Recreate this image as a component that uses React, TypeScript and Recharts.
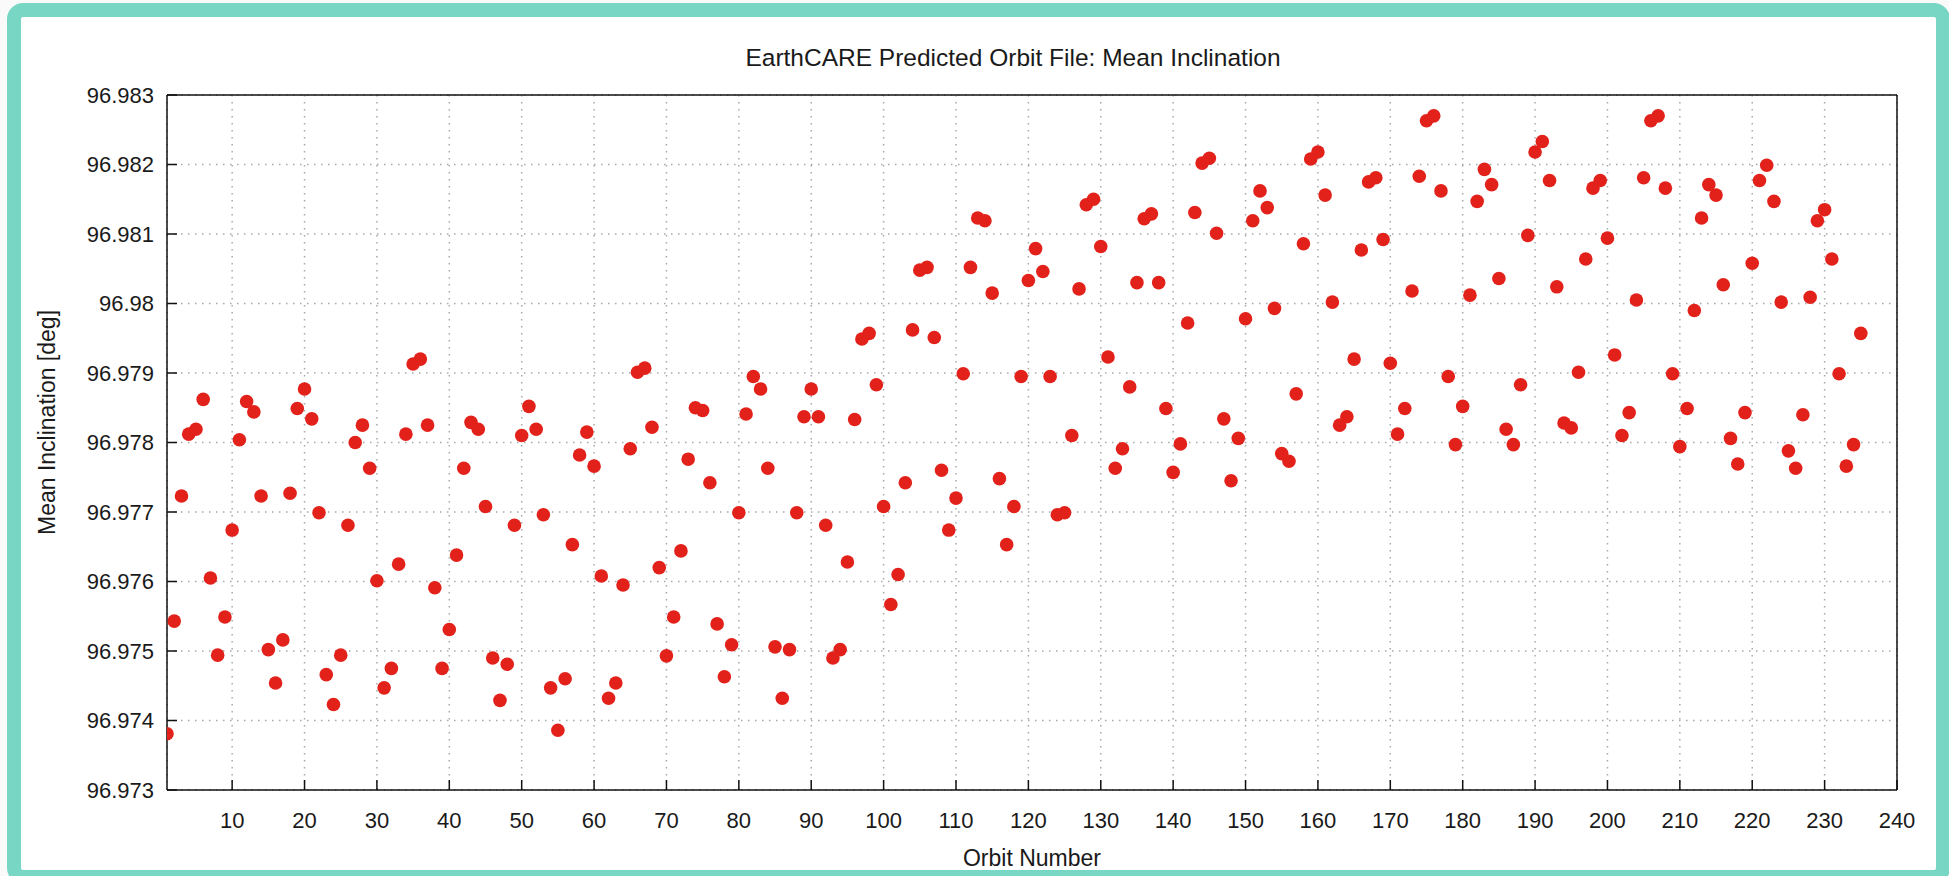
import { CartesianGrid, Label, Scatter, ScatterChart, XAxis, YAxis } from 'recharts'

// mean inclination [deg], one value per orbit
const incOrbits001to060 = [
  96.97381, 96.97543, 96.97723, 96.97812, 96.97819, 96.97862, 96.97605, 96.97494, 96.97549, 96.97674,
  96.97804, 96.97859, 96.97844, 96.97723, 96.97502, 96.97454, 96.97516, 96.97727, 96.97849, 96.97877,
  96.97834, 96.97699, 96.97466, 96.97423, 96.97494, 96.97681, 96.978, 96.97825, 96.97763, 96.97601,
  96.97447, 96.97475, 96.97625, 96.97812, 96.97913, 96.9792, 96.97825, 96.97591, 96.97475, 96.97531,
  96.97638, 96.97763, 96.97829, 96.97819, 96.97708, 96.9749, 96.97429, 96.97481, 96.97681, 96.9781,
  96.97852, 96.97819, 96.97696, 96.97447, 96.97386, 96.9746, 96.97653, 96.97782, 96.97815, 96.97766,
]
const incOrbits061to120 = [
  96.97608, 96.97432, 96.97454, 96.97595, 96.97791, 96.97901, 96.97907, 96.97822, 96.9762, 96.97493,
  96.97549, 96.97644, 96.97776, 96.9785, 96.97846, 96.97742, 96.97539, 96.97463, 96.97509, 96.97699,
  96.97841, 96.97895, 96.97877, 96.97763, 96.97506, 96.97432, 96.97502, 96.97699, 96.97837, 96.97877,
  96.97837, 96.97681, 96.9749, 96.97502, 96.97628, 96.97833, 96.97949, 96.97957, 96.97883, 96.97708,
  96.97567, 96.9761, 96.97742, 96.97962, 96.98048, 96.98052, 96.97951, 96.9776, 96.97674, 96.9772,
  96.97899, 96.98052, 96.98123, 96.98119, 96.98015, 96.97748, 96.97653, 96.97708, 96.97895, 96.98033,
]
const incOrbits121to180 = [
  96.98079, 96.98046, 96.97895, 96.97696, 96.97699, 96.9781, 96.98021, 96.98142, 96.9815, 96.98082,
  96.97923, 96.97763, 96.97791, 96.9788, 96.9803, 96.98122, 96.98129, 96.9803, 96.97849, 96.97757,
  96.97798, 96.97972, 96.98131, 96.98202, 96.98209, 96.98101, 96.97834, 96.97745, 96.97806, 96.97978,
  96.98119, 96.98162, 96.98138, 96.97993, 96.97784, 96.97773, 96.9787, 96.98086, 96.98208, 96.98218,
  96.98156, 96.98002, 96.97825, 96.97837, 96.9792, 96.98077, 96.98175, 96.98181, 96.98092, 96.97914,
  96.97812, 96.97849, 96.98018, 96.98183, 96.98263, 96.9827, 96.98162, 96.97895, 96.97797, 96.97852,
]
const incOrbits181to235 = [
  96.98012, 96.98147, 96.98193, 96.98171, 96.98036, 96.97819, 96.97797, 96.97883, 96.98098, 96.98218,
  96.98233, 96.98177, 96.98024, 96.97828, 96.97821, 96.97901, 96.98064, 96.98166, 96.98177, 96.98094,
  96.97926, 96.9781, 96.97843, 96.98005, 96.98181, 96.98263, 96.9827, 96.98166, 96.97899, 96.97794,
  96.97849, 96.9799, 96.98123, 96.98171, 96.98156, 96.98027, 96.97806, 96.97769, 96.97843, 96.98058,
  96.98177, 96.98199, 96.98147, 96.98002, 96.97788, 96.97763, 96.9784, 96.98009, 96.98119, 96.98135,
  96.98064, 96.97899, 96.97766, 96.97797, 96.97957,
]

const firstOrbit = 1
const xDomain = [1, 240]
const xTicks = [10, 20, 30, 40, 50, 60, 70, 80, 90, 100, 110, 120, 130, 140, 150, 160, 170, 180, 190, 200, 210, 220, 230, 240]
const yDomain = [96.973, 96.983]
const yTicks = [96.973, 96.974, 96.975, 96.976, 96.977, 96.978, 96.979, 96.98, 96.981, 96.982, 96.983]

const points = [...incOrbits001to060, ...incOrbits061to120, ...incOrbits121to180, ...incOrbits181to235].map(
  (inc, i) => ({ orbit: firstOrbit + i, inc })
)

const FONT = '"Liberation Sans", Arial, Helvetica, sans-serif'
const tickStyle = { fill: '#1a1a1a', fontSize: 22, fontFamily: FONT }
const labelStyle = { fill: '#1a1a1a', fontSize: 23, fontFamily: FONT }
const axisLine = { stroke: '#111', strokeWidth: 1.5 }
const tickLine = { stroke: '#111', strokeWidth: 1.5 }

const fmtInc = (v: number) => String(parseFloat(v.toFixed(3)))

const RedDot = (props: any) => <circle cx={props.cx} cy={props.cy} r={6.8} fill="#e3211b" />

export default function App() {
  return (
    <div style={{ position: 'absolute', left: 0, top: 0, width: 1949, height: 876, overflow: 'hidden', background: '#fafafa' }}>
      <div
        style={{
          position: 'absolute',
          left: 7,
          top: 3,
          width: 1943,
          height: 881,
          boxSizing: 'border-box',
          border: '14px solid #78d7c4',
          borderRadius: 16,
          background: '#fff',
        }}
      />
      <div
        style={{
          position: 'absolute',
          left: 513,
          top: 44,
          width: 1000,
          textAlign: 'center',
          fontFamily: FONT,
          fontSize: 24.5,
          lineHeight: '28px',
          color: '#1a1a1a',
        }}
      >
        EarthCARE Predicted Orbit File: Mean Inclination
      </div>
      <div style={{ position: 'absolute', left: 0, top: 0 }}>
        <ScatterChart width={1949} height={876} margin={{ top: 85, right: 42, bottom: 46, left: 0 }}>
          <CartesianGrid stroke="#a8a8a8" strokeWidth={1.5} strokeDasharray="1.5 5.5" />
          <XAxis
            dataKey="orbit"
            type="number"
            domain={xDomain}
            ticks={xTicks}
            interval={0}
            allowDataOverflow
            height={40}
            tickSize={-10}
            tickMargin={32}
            tick={tickStyle}
            axisLine={axisLine}
            tickLine={tickLine}
          >
            <Label value="Orbit Number" position="bottom" offset={20} style={labelStyle} />
          </XAxis>
          <XAxis
            xAxisId="top"
            orientation="top"
            type="number"
            domain={xDomain}
            ticks={xTicks}
            interval={0}
            allowDataOverflow
            height={10}
            tickSize={-10}
            tick={false}
            axisLine={axisLine}
            tickLine={tickLine}
          />
          <YAxis
            dataKey="inc"
            type="number"
            domain={yDomain}
            ticks={yTicks}
            interval={0}
            allowDataOverflow
            width={167}
            tickSize={-10}
            tickMargin={23}
            tickFormatter={fmtInc}
            tick={tickStyle}
            axisLine={axisLine}
            tickLine={tickLine}
          >
            <Label
              value="Mean Inclination [deg]"
              angle={-90}
              position="center"
              dx={-37}
              dy={-20}
              style={{ ...labelStyle, textAnchor: 'middle' }}
            />
          </YAxis>
          <YAxis
            yAxisId="right"
            orientation="right"
            type="number"
            domain={yDomain}
            ticks={yTicks}
            interval={0}
            allowDataOverflow
            width={10}
            tickSize={-10}
            tick={false}
            axisLine={axisLine}
            tickLine={tickLine}
          />
          <Scatter data={points} dataKey="inc" shape={RedDot} isAnimationActive={false} />
        </ScatterChart>
      </div>
    </div>
  )
}
